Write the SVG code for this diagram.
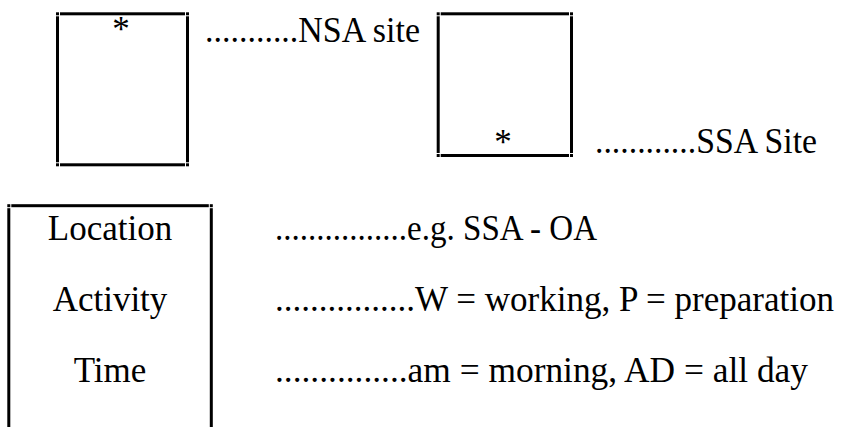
<svg xmlns="http://www.w3.org/2000/svg" width="844" height="427" viewBox="0 0 844 427">
<style>
.ln{fill:#000}
.t{font-family:"Liberation Serif","Times New Roman",serif;font-size:35px;fill:#000}
.c{text-anchor:middle}
</style>
<rect width="844" height="427" fill="#fff"/>
<g id="nsa-box">
<rect class="ln" x="56" y="12.3" width="3" height="3"/>
<rect class="ln" x="186" y="12.3" width="3" height="3"/>
<rect class="ln" x="56" y="163.3" width="3" height="3"/>
<rect class="ln" x="186" y="163.3" width="3" height="3"/>
<rect class="ln" x="60" y="12.3" width="125" height="3"/>
<rect class="ln" x="60" y="163.3" width="125" height="3"/>
<rect class="ln" x="56" y="16.3" width="3" height="146"/>
<rect class="ln" x="186" y="16.3" width="3" height="146"/>
<text class="t c" x="121" y="41">*</text>
</g>
<g id="nsa-label"><text class="t" x="205" y="42" textLength="215" lengthAdjust="spacingAndGlyphs">...........NSA site</text></g>
<g id="ssa-box">
<rect class="ln" x="436.7" y="12.3" width="3" height="3"/>
<rect class="ln" x="570" y="12.3" width="3" height="3"/>
<rect class="ln" x="436.7" y="154" width="3" height="3"/>
<rect class="ln" x="570" y="154" width="3" height="3"/>
<rect class="ln" x="440.7" y="12.3" width="128.3" height="3"/>
<rect class="ln" x="440.7" y="154" width="128.3" height="3"/>
<rect class="ln" x="436.7" y="16.3" width="3" height="136.7"/>
<rect class="ln" x="570" y="16.3" width="3" height="136.7"/>
<text class="t c" x="503" y="154">*</text>
</g>
<g id="ssa-label"><text class="t" x="595" y="153" textLength="222" lengthAdjust="spacingAndGlyphs">............SSA Site</text></g>
<g id="legend-box">
<rect class="ln" x="7.3" y="204.2" width="3" height="3"/>
<rect class="ln" x="209.8" y="204.2" width="3" height="3"/>
<rect class="ln" x="11.3" y="204.2" width="197.5" height="3"/>
<rect class="ln" x="7.3" y="208.2" width="3" height="220"/>
<rect class="ln" x="209.8" y="208.2" width="3" height="220"/>
<text class="t c" x="110" y="240">Location</text>
<text class="t c" x="110" y="311">Activity</text>
<text class="t c" x="110" y="382">Time</text>
</g>
<g id="legend-text">
<text class="t" x="275" y="240" textLength="322" lengthAdjust="spacingAndGlyphs">................e.g. SSA - OA</text>
<text class="t" x="275" y="311" textLength="559" lengthAdjust="spacingAndGlyphs">................W = working, P = preparation</text>
<text class="t" x="275" y="382" textLength="533" lengthAdjust="spacingAndGlyphs">...............am = morning, AD = all day</text>
</g>
<g id="connectors"/>
</svg>
